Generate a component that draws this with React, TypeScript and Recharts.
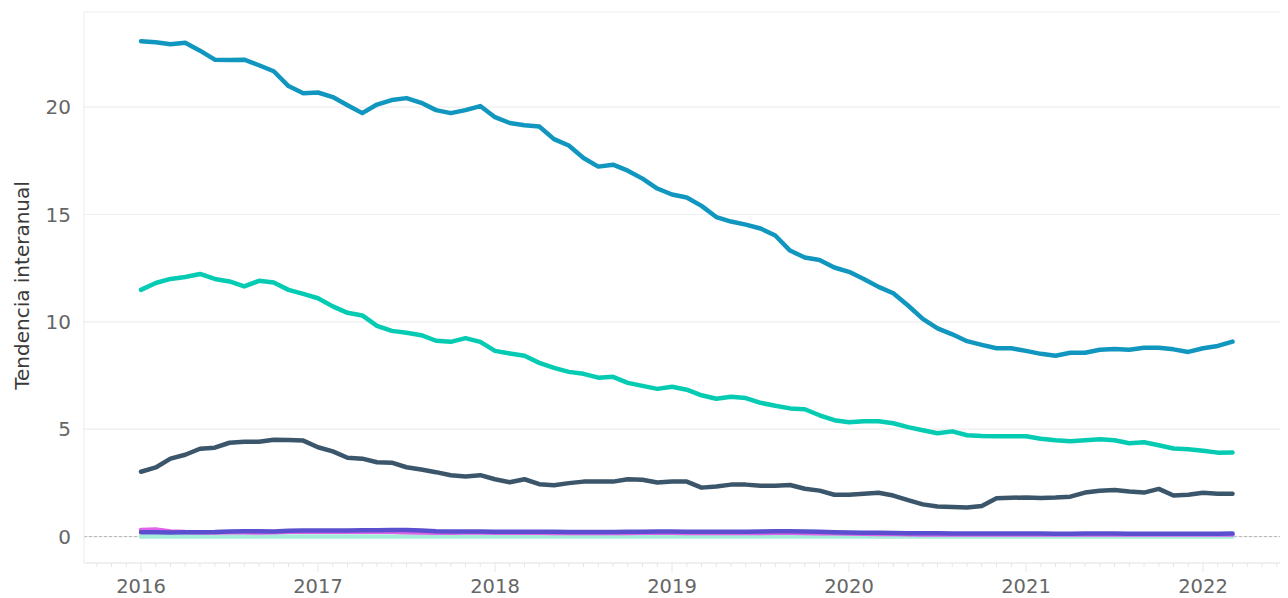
import { LineChart, Line, XAxis, YAxis, CartesianGrid, ReferenceLine } from 'recharts'

const FONT = '"DejaVu Sans", sans-serif'

// tick labels
const years = ['2016', '2017', '2018', '2019', '2020', '2021', '2022']
const yTicks = [0, 5, 10, 15, 20]
const yTitle = 'Tendencia interanual'

// monthly values, Jan 2016 .. Mar 2022
const blue = [
  23.07, 23.02, 22.93, 23.0, 22.63, 22.21, 22.19, 22.21, 21.95, 21.67,
  20.98, 20.65, 20.68, 20.47, 20.09, 19.72, 20.12, 20.33, 20.42, 20.2,
  19.86, 19.72, 19.86, 20.05, 19.53, 19.26, 19.16, 19.1, 18.51, 18.21,
  17.63, 17.23, 17.32, 17.04, 16.67, 16.21, 15.93, 15.79, 15.4, 14.88,
  14.67, 14.53, 14.35, 14.02, 13.32, 13.0, 12.88, 12.53, 12.33, 12.0,
  11.63, 11.33, 10.76, 10.14, 9.7, 9.42, 9.1, 8.93, 8.77, 8.77,
  8.65, 8.51, 8.42, 8.56, 8.56, 8.7, 8.74, 8.7, 8.79, 8.79,
  8.72, 8.6, 8.77, 8.88, 9.08,
]
const teal = [
  11.49, 11.81, 12.0, 12.09, 12.23, 12.0, 11.88, 11.65, 11.91, 11.83,
  11.49, 11.3, 11.1, 10.72, 10.42, 10.3, 9.81, 9.58, 9.49, 9.38,
  9.12, 9.07, 9.24, 9.07, 8.65, 8.53, 8.42, 8.09, 7.86, 7.67,
  7.58, 7.4, 7.44, 7.16, 7.02, 6.88, 6.98, 6.84, 6.58, 6.42,
  6.51, 6.45, 6.23, 6.09, 5.97, 5.93, 5.65, 5.42, 5.32, 5.37,
  5.37, 5.28, 5.1, 4.95, 4.81, 4.9, 4.72, 4.68, 4.67, 4.67,
  4.67, 4.56, 4.49, 4.44, 4.49, 4.53, 4.49, 4.35, 4.39, 4.25,
  4.1, 4.07, 4.0, 3.91, 3.92,
]
const slate = [
  3.02, 3.22, 3.63, 3.81, 4.09, 4.14, 4.37, 4.42, 4.42, 4.51,
  4.5, 4.47, 4.16, 3.97, 3.67, 3.63, 3.46, 3.44, 3.23, 3.12,
  3.0, 2.86, 2.8, 2.86, 2.67, 2.53, 2.67, 2.44, 2.39, 2.49,
  2.56, 2.57, 2.56, 2.67, 2.65, 2.52, 2.56, 2.56, 2.28, 2.33,
  2.42, 2.42, 2.37, 2.37, 2.4, 2.23, 2.14, 1.95, 1.95, 2.0,
  2.04, 1.91, 1.7, 1.5, 1.4, 1.38, 1.35, 1.42, 1.78, 1.81,
  1.82, 1.8, 1.82, 1.86, 2.05, 2.13, 2.17, 2.1, 2.05, 2.22,
  1.91, 1.95, 2.04, 2.0, 2.0,
]
const purple = [
  0.2, 0.2, 0.19, 0.2, 0.2, 0.21, 0.24, 0.25, 0.25, 0.24,
  0.27, 0.28, 0.28, 0.28, 0.28, 0.29, 0.3, 0.31, 0.31, 0.28,
  0.25, 0.24, 0.24, 0.24, 0.22, 0.22, 0.23, 0.22, 0.22, 0.21,
  0.21, 0.21, 0.21, 0.22, 0.23, 0.24, 0.24, 0.23, 0.22, 0.22,
  0.22, 0.23, 0.24, 0.25, 0.25, 0.24, 0.22, 0.2, 0.19, 0.18,
  0.18, 0.17, 0.16, 0.15, 0.15, 0.14, 0.14, 0.14, 0.14, 0.14,
  0.14, 0.14, 0.13, 0.13, 0.14, 0.14, 0.14, 0.13, 0.13, 0.13,
  0.13, 0.13, 0.13, 0.13, 0.14,
]
const magenta = [
  0.31, 0.33, 0.24, 0.21, 0.2, 0.19, 0.2, 0.2, 0.19, 0.2,
  0.22, 0.23, 0.22, 0.22, 0.22, 0.22, 0.23, 0.22, 0.2, 0.19,
  0.18, 0.18, 0.19, 0.19, 0.18, 0.18, 0.18, 0.18, 0.17, 0.17,
  0.17, 0.17, 0.17, 0.17, 0.18, 0.18, 0.18, 0.17, 0.17, 0.17,
  0.17, 0.17, 0.17, 0.18, 0.18, 0.17, 0.16, 0.15, 0.14, 0.13,
  0.12, 0.12, 0.11, 0.1, 0.1, 0.1, 0.1, 0.1, 0.1, 0.1,
  0.1, 0.1, 0.1, 0.1, 0.1, 0.1, 0.1, 0.1, 0.1, 0.1,
  0.1, 0.1, 0.1, 0.1, 0.1,
]
const aqua = [
  0.0, 0.0, 0.0, 0.0, 0.0, 0.0, 0.0, 0.0, 0.0, 0.0,
  0.0, 0.0, 0.0, 0.0, 0.0, 0.0, 0.0, 0.0, 0.0, 0.0,
  0.0, 0.0, 0.0, 0.0, 0.0, 0.0, 0.0, 0.0, 0.0, 0.0,
  0.0, 0.0, 0.0, 0.0, 0.0, 0.0, 0.0, 0.0, 0.0, 0.0,
  0.0, 0.0, 0.0, 0.0, 0.0, 0.0, 0.0, 0.0, 0.0, 0.0,
  0.0, 0.0, 0.0, 0.0, 0.0, 0.0, 0.0, 0.0, 0.0, 0.0,
  0.0, 0.0, 0.0, 0.0, 0.0, 0.0, 0.0, 0.0, 0.0, 0.0,
  0.0, 0.0, 0.0, 0.0, 0.0,
]

const data = blue.map((v, i) => ({
  t: 2016 + i / 12,
  blue: v,
  teal: teal[i],
  slate: slate[i],
  purple: purple[i],
  magenta: magenta[i],
  aqua: aqua[i],
}))

// one tick per month, the januaries get a label
const monthTicks: number[] = []
for (let m = -3; m <= 77; m++) monthTicks.push(2016 + m / 12)

function MonthTick(props: any) {
  const { x, y, payload } = props
  const v = payload.value
  const yr = Math.round(v)
  const isYear = Math.abs(v - yr) < 1e-6
  const label = years.find((s) => Number(s) === yr)
  return (
    <g>
      <line x1={x} x2={x} y1={y} y2={y + (isYear ? 9 : 4)} stroke="#e6e6e6" strokeWidth={1} />
      {isYear && label && (
        <text x={x} y={y + 30} textAnchor="middle" fill="#666" fontSize={19.5} fontFamily={FONT}>
          {label}
        </text>
      )}
    </g>
  )
}

function YTitle(props: any) {
  const vb = props.viewBox || { x: 0, y: 0, height: 0 }
  const cx = vb.x + 14
  const cy = vb.y + vb.height / 2 - 2
  return (
    <text
      x={cx}
      y={cy}
      transform={`rotate(-90, ${cx}, ${cy})`}
      textAnchor="middle"
      dominantBaseline="central"
      fill="#3a3a3a"
      fontSize={20}
      fontFamily={FONT}
    >
      {yTitle}
    </text>
  )
}

const lineProps = {
  type: 'linear' as const,
  dot: false,
  isAnimationActive: false,
  strokeLinejoin: 'round' as const,
  strokeLinecap: 'round' as const,
}

export default function App() {
  return (
    <div style={{ width: 1280, height: 590, fontFamily: FONT }}>
      <LineChart width={1280} height={590} data={data} margin={{ top: 4, right: 0, bottom: 0, left: 0 }}>
        <CartesianGrid vertical={false} stroke="#eeeeee" strokeWidth={1.2} />
        <XAxis
          dataKey="t"
          type="number"
          domain={[2015.678, 2022.48]}
          allowDataOverflow
          ticks={monthTicks}
          interval={0}
          height={35}
          tickSize={0}
          tickMargin={0}
          tickLine={false}
          axisLine={{ stroke: '#ebebeb' }}
          tick={(p: any) => <MonthTick {...p} />}
        />
        <YAxis
          type="number"
          domain={[-1.23, 24.43]}
          allowDataOverflow
          ticks={yTicks}
          width={76}
          tickLine={false}
          tickSize={6}
          tickMargin={7}
          axisLine={{ stroke: '#ebebeb' }}
          tick={{ fill: '#666', fontSize: 20, fontFamily: FONT }}
          label={{ content: (p: any) => <YTitle {...p} /> }}
        />
        <ReferenceLine y={0} stroke="#b8b8b8" strokeDasharray="3 2" strokeWidth={1} />
        <Line {...lineProps} dataKey="aqua" stroke="#a6ecda" strokeWidth={4.5} />
        <Line {...lineProps} dataKey="magenta" stroke="#e062e8" strokeWidth={4.5} />
        <Line {...lineProps} dataKey="purple" stroke="#5a50cf" strokeWidth={4.5} />
        <Line {...lineProps} dataKey="slate" stroke="#3b566b" strokeWidth={4.5} />
        <Line {...lineProps} dataKey="teal" stroke="#05cbb3" strokeWidth={4.5} />
        <Line {...lineProps} dataKey="blue" stroke="#1197bf" strokeWidth={4.5} />
      </LineChart>
    </div>
  )
}
